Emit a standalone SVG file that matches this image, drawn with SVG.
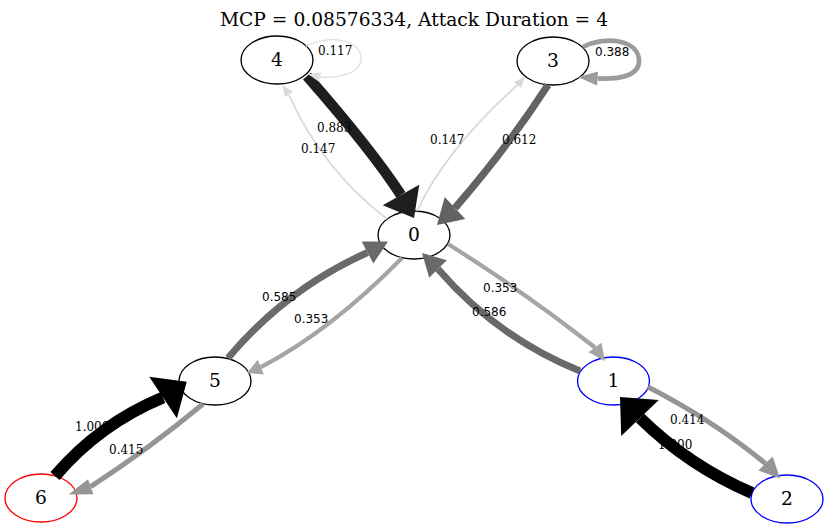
<svg xmlns="http://www.w3.org/2000/svg" width="829" height="528" viewBox="0 0 829 528">
<style>
.bg{fill:#fff}
.title{font-family:"DejaVu Serif","Liberation Serif",serif;font-size:18.67px;fill:#000}
.node ellipse{fill:#fff;stroke:#000;stroke-width:1.33}
.node.blue ellipse{stroke:#00f}
.node.red ellipse{stroke:#f00}
.node text{font-family:"DejaVu Serif","Liberation Serif",serif;font-size:18.67px;text-anchor:middle;fill:#000}
.e path{fill:none;stroke-linecap:butt}
.lbl{font-size:12px;fill:#000}
.serif{font-family:"DejaVu Serif","Liberation Serif",serif}
.sans{font-family:"DejaVu Sans","Liberation Sans",sans-serif}
.p1000 path{stroke:#000;stroke-width:12}.p1000 polygon{fill:#000}
.p883 path{stroke:#1e1e1e;stroke-width:10.6}.p883 polygon{fill:#1e1e1e}
.p612 path{stroke:#636363;stroke-width:7.3}.p612 polygon{fill:#636363}
.p586 path{stroke:#696969;stroke-width:7}.p586 polygon{fill:#696969}
.p585 path{stroke:#6a6a6a;stroke-width:7}.p585 polygon{fill:#6a6a6a}
.p415 path{stroke:#959595;stroke-width:5}.p415 polygon{fill:#959595}
.p388 path{stroke:#9c9c9c;stroke-width:4.7}.p388 polygon{fill:#9c9c9c}
.p353 path{stroke:#a5a5a5;stroke-width:4.2}.p353 polygon{fill:#a5a5a5}
.p147 path{stroke:#d9d9d9;stroke-width:1.8}.p147 polygon{fill:#d9d9d9}
.p117 path{stroke:#e1e1e1;stroke-width:1.4}.p117 polygon{fill:#e1e1e1}
</style>
<rect class="bg" x="0" y="0" width="829" height="528"/>
<text class="title" x="414" y="26" text-anchor="middle">MCP = 0.08576334, Attack Duration = 4</text>
<g id="nodes">
<g id="node0" class="node"><ellipse cx="414" cy="235" rx="36" ry="24"/><text x="414" y="241">0</text></g>
<g id="node1" class="node blue"><ellipse cx="613.5" cy="381" rx="36" ry="24"/><text x="613.5" y="387">1</text></g>
<g id="node2" class="node blue"><ellipse cx="787" cy="499" rx="36" ry="24"/><text x="787" y="505">2</text></g>
<g id="node3" class="node"><ellipse cx="553" cy="61" rx="36" ry="24"/><text x="553" y="67">3</text></g>
<g id="node4" class="node"><ellipse cx="277" cy="60" rx="36" ry="24"/><text x="277" y="66">4</text></g>
<g id="node5" class="node"><ellipse cx="215" cy="381" rx="36" ry="24"/><text x="215" y="387">5</text></g>
<g id="node6" class="node red"><ellipse cx="41" cy="498" rx="36" ry="24"/><text x="41" y="504">6</text></g>
</g>
<g id="connectors">
<g id="e4_0" class="e p883"><path d="M307,76 C335,108 375,155 401,195"/><polygon points="414,218 382.7,205.3 419.3,184.7"/></g>
<g id="e0_4" class="e p147"><path d="M387,219 Q322,169 289,95"/><polygon points="282,85 293,91.8 285,97.2"/></g>
<g id="e4_4" class="e p117"><path d="M306,46 C330,34 362,40 361,59 C360,75 335,78 320,77"/><polygon points="308,74 321.5,72.5 318.5,81.5"/></g>
<g id="e3_0" class="e p612"><path d="M548,85 Q508.5,146 455,208"/><polygon points="437,225 444.7,197.1 465.3,218.9"/></g>
<g id="e0_3" class="e p147"><path d="M417,211 Q447,148 517.5,85"/><polygon points="525,76.5 521,88.1 514,81.9"/></g>
<g id="e3_3" class="e p388"><path d="M583,47 C606,35 640,40 639,62 C638,78 615,79 597.5,78.5"/><polygon points="578,77 598,71.5 597,85.5"/></g>
<g id="e5_0" class="e p585"><path d="M228,358 Q286,289 367.5,252.5"/><polygon points="388,241.5 361.6,241.5 373.4,263.5"/></g>
<g id="e0_5" class="e p353"><path d="M402,258 Q331,330.5 260.8,367.2"/><polygon points="247,373 257.7,359.8 263.9,374.6"/></g>
<g id="e0_1" class="e p353"><path d="M448,244 Q524.5,292 595,347.5"/><polygon points="605,361 588.6,352.3 601.4,342.7"/></g>
<g id="e1_0" class="e p586"><path d="M580,371 Q497,337.5 438,269"/><polygon points="422,253 446.8,260.2 429.2,277.8"/></g>
<g id="e1_2" class="e p415"><path d="M648,387 Q711,419 765.5,463.5"/><polygon points="780,478.5 758.3,470.4 772.7,456.6"/></g>
<g id="e2_1" class="e p1000"><path d="M752,493 Q688.8,465.8 640,418"/><polygon points="620,397 658.8,400.1 621.2,435.9"/></g>
<g id="e5_6" class="e p415"><path d="M203,404 Q150,448 90.7,486.7"/><polygon points="68.5,494.5 88,479.2 93.4,494.2"/></g>
<g id="e6_5" class="e p1000"><path d="M55,476 Q99.6,423.8 163,397.5"/><polygon points="186.7,381.7 176.9,418.3 149.2,376.7"/></g>
<g id="labels">
<text class="lbl serif" x="318" y="55">0.117</text>
<text class="lbl serif" x="317" y="132">0.883</text>
<text class="lbl serif" x="301" y="153">0.147</text>
<text class="lbl serif" x="430" y="144">0.147</text>
<text class="lbl serif" x="502" y="144">0.612</text>
<text class="lbl sans" x="595" y="56">0.388</text>
<text class="lbl sans" x="262" y="301">0.585</text>
<text class="lbl sans" x="294" y="323">0.353</text>
<text class="lbl sans" x="483" y="292">0.353</text>
<text class="lbl sans" x="472" y="316">0.586</text>
<text class="lbl serif" x="670" y="424">0.414</text>
<text class="lbl serif" x="658" y="449">1.000</text>
<text class="lbl serif" x="75" y="431">1.000</text>
<text class="lbl serif" x="109" y="454">0.415</text>
</g>
</g>
</svg>
